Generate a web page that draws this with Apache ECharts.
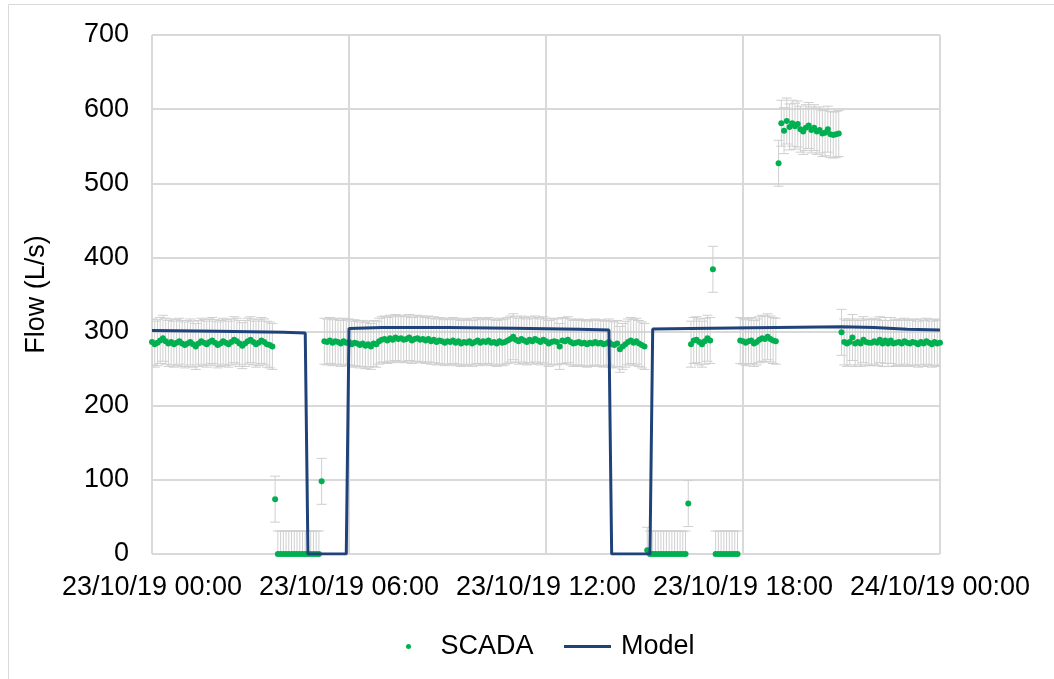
<!DOCTYPE html>
<html>
<head>
<meta charset="utf-8">
<script src="https://cdn.jsdelivr.net/npm/echarts@6/dist/echarts.min.js"></script>
<style>
  html, body { margin: 0; padding: 0; background: #ffffff; }
  #chart { width: 1054px; height: 679px; }
</style>
</head>
<body>
<div id="chart"></div>
<script>
// Axis tick labels (x axis runs 0..24 hours from 23/10/19 00:00)
const xTickLabels = ['23/10/19 00:00', '23/10/19 06:00', '23/10/19 12:00', '23/10/19 18:00', '24/10/19 00:00'];
const yTicks = [0, 100, 200, 300, 400, 500, 600, 700];

// SCADA logging step (minutes) and the +/- band drawn around each reading (L/s)
const scadaStepMinutes = 5;
const scadaErrorMargin = 31;

// SCADA flow readings (L/s), consecutive 5-minute samples from 00:00
const flowEarlyMorning = [
  286, 283, 285, 288, 291, 287, 284, 286, 283, 285, 287, 284, 282, 284, 286,
  283, 280, 284, 287, 285, 283, 286, 288, 285, 282, 284, 287, 285, 283, 286,
  289, 287, 284, 281, 284, 287, 289, 286, 283, 285, 288, 286, 283, 282, 280
];
const flowFirstShutdown = [
  74, 0, 0, 0, 0, 0, 0, 0, 0, 0, 0, 0, 0, 0, 0, 0, 0, 98
];
const flowDaytime = [
  287, 286, 288, 285, 287, 286, 284, 287, 285, 286, 283, 285, 284, 282, 284, 281, 283,
  280, 284, 283, 287, 289, 290, 288, 291, 289, 292, 290, 291, 289, 290, 292, 288, 290, 291, 289, 290,
  288, 290, 287, 289, 286, 288, 287, 285, 287, 286, 288, 285, 287, 284, 286, 285, 287, 284, 286, 288,
  285, 287, 286, 288, 285, 286, 284, 287, 285, 286, 288, 290, 293, 289, 287, 290, 288, 286, 289, 287,
  290, 288, 286, 289, 287, 284, 286, 287, 286, 280, 288, 287, 289, 286, 284, 285, 286, 284, 285, 283,
  285, 284, 286, 284, 285, 283, 284, 286, 283, 282, 284, 276, 280, 283, 286, 288, 285, 287, 284, 282, 280
];
const flowSecondShutdown = [
  5, 0, 0, 0, 0, 0, 0, 0, 0, 0, 0, 0, 0, 0, 0, 68
];
const flowAfternoon = [
  283, 288, 289, 286, 283, 287, 291, 288, 384, 0, 0, 0, 0, 0, 0, 0, 0, 0
];
const flowEvening = [
  288, 287, 285, 287, 288, 284, 286, 289, 291, 290, 293, 290, 288, 287, 527
];
const flowPeak = [
  581, 571, 584, 576, 581, 577, 580, 573, 570, 575, 578, 572, 575, 570, 572,
  567, 568, 573, 566, 565, 566, 567, 299
];
const flowNight = [
  286, 284, 286, 292, 284, 286, 284, 289, 286, 285, 285, 287, 285, 289, 284, 288, 284, 288,
  284, 285, 286, 284, 287, 285, 284, 286, 285, 283, 286, 284, 287, 285, 283, 286, 284, 285
];

// Hydraulic model flow (L/s) at its breakpoints, time in hours from 00:00
const modelHours = [0, 2, 4, 4.667, 4.75, 5.917, 6.0, 7, 9, 11, 13, 13.917, 14.0, 15.167, 15.25, 17, 19, 21, 22, 23, 24];
const modelFlow  = [301.5, 300.5, 299, 298, 0, 0, 304, 305.5, 305.5, 304.5, 303, 302, 0, 0, 303.5, 304.5, 305.5, 306.5, 305.5, 303, 302];

// ---- build series data ----
const scadaFlow = [].concat(flowEarlyMorning, flowFirstShutdown, flowDaytime, flowSecondShutdown,
  flowAfternoon, flowEvening, flowPeak, flowNight);
const scadaPoints = scadaFlow.map((v, i) => [i * scadaStepMinutes / 60, v]);
const scadaBars = scadaFlow.map((v, i) => [i * scadaStepMinutes / 60, v - scadaErrorMargin, v + scadaErrorMargin]);
const modelPoints = modelHours.map((h, i) => [h, modelFlow[i]]);

const FONT = '"Liberation Sans", Arial, Helvetica, sans-serif';
const GRID_COLOR = '#d9d9d9';
const MODEL_COLOR = '#1f4379';

const chart = echarts.init(document.getElementById('chart'), null, { renderer: 'canvas' });

chart.setOption({
  animation: false,
  backgroundColor: '#ffffff',
  textStyle: { fontFamily: FONT },
  graphic: [{
    type: 'rect',
    silent: true,
    z: -10,
    shape: { x: 8.5, y: 4.5, width: 1100, height: 700 },
    style: { fill: 'none', stroke: GRID_COLOR, lineWidth: 1 }
  }],
  grid: { left: 152, right: 114, top: 35, bottom: 125, containLabel: false },
  legend: [
    {
      data: ['SCADA'],
      left: 401, top: 628,
      itemWidth: 54, itemHeight: 5,
      icon: 'circle',
      textStyle: { fontSize: 27, color: '#000', fontFamily: FONT }
    },
    {
      data: [{ name: 'Model', icon: 'rect' }],
      left: 559, top: 628,
      itemWidth: 47, itemHeight: 3,
      textStyle: { fontSize: 27, color: '#000', fontFamily: FONT, padding: [0, 0, 0, 5] }
    }
  ],
  xAxis: {
    type: 'value',
    min: 0, max: 24, interval: 6,
    axisLine: { show: false },
    axisTick: { show: false },
    splitLine: { show: true, lineStyle: { color: GRID_COLOR, width: 2 } },
    axisLabel: {
      fontSize: 27, color: '#000', fontFamily: FONT, margin: 20,
      showMinLabel: true, showMaxLabel: true,
      formatter: v => xTickLabels[Math.round(v / 6)] || ''
    }
  },
  yAxis: {
    type: 'value',
    min: yTicks[0], max: yTicks[yTicks.length - 1], interval: 100,
    name: 'Flow (L/s)',
    nameLocation: 'middle',
    nameGap: 102,
    nameTextStyle: { fontSize: 27, color: '#000', fontFamily: FONT },
    axisLine: { show: false },
    axisTick: { show: false },
    splitLine: { show: true, lineStyle: { color: GRID_COLOR, width: 2 } },
    axisLabel: { fontSize: 27, color: '#000', fontFamily: FONT, margin: 23 }
  },
  series: [
    {
      type: 'custom',
      name: 'SCADA range',
      clip: true,
      z: 1,
      data: scadaBars,
      encode: { x: 0, y: [1, 2] },
      renderItem: function (params, api) {
        const t = api.value(0);
        const lo = api.coord([t, api.value(1)]);
        const hi = api.coord([t, api.value(2)]);
        const half = 5;
        const style = { stroke: '#cfcfcf', lineWidth: 1, fill: null };
        return {
          type: 'group',
          children: [
            { type: 'line', shape: { x1: lo[0], y1: lo[1], x2: hi[0], y2: hi[1] }, style: style },
            { type: 'line', shape: { x1: lo[0] - half, y1: lo[1], x2: lo[0] + half, y2: lo[1] }, style: style },
            { type: 'line', shape: { x1: hi[0] - half, y1: hi[1], x2: hi[0] + half, y2: hi[1] }, style: style }
          ]
        };
      }
    },
    {
      type: 'scatter',
      name: 'SCADA',
      z: 3,
      symbol: 'circle',
      symbolSize: 6,
      itemStyle: { color: '#00b050', opacity: 1 },
      data: scadaPoints
    },
    {
      type: 'line',
      name: 'Model',
      z: 4,
      showSymbol: false,
      symbol: 'none',
      lineStyle: { color: MODEL_COLOR, width: 3 },
      itemStyle: { color: MODEL_COLOR },
      data: modelPoints
    }
  ]
});
</script>
</body>
</html>
